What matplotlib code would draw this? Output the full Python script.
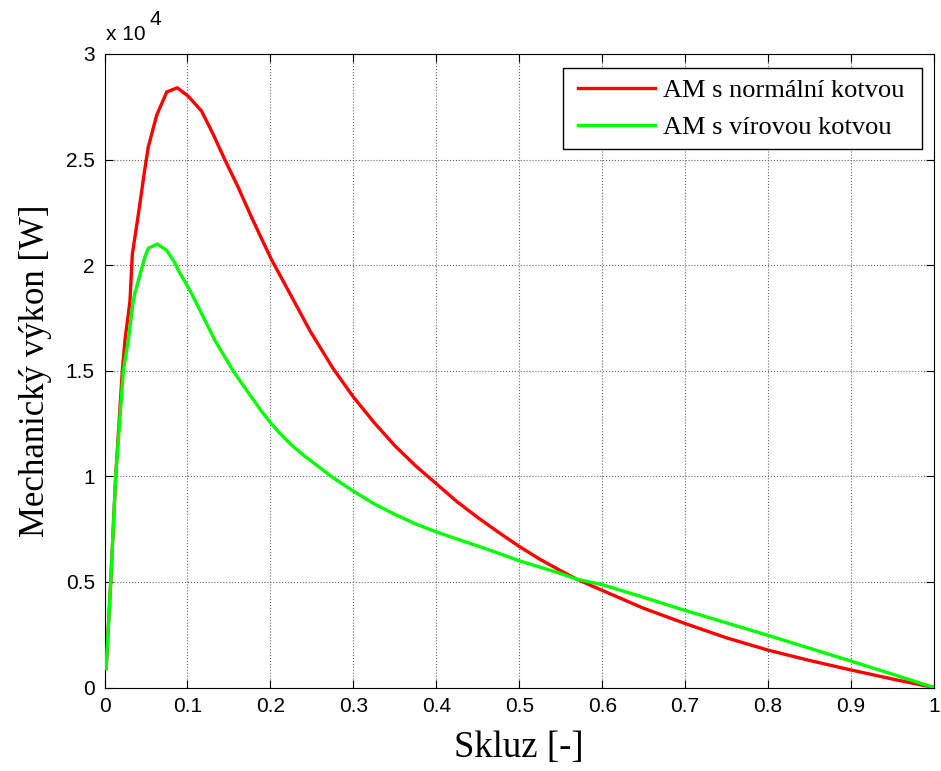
import matplotlib
matplotlib.use("Agg")
import matplotlib.pyplot as plt
from matplotlib.patches import Rectangle
from matplotlib.ticker import FuncFormatter

# Slip [-] and mechanical power [W] for the two rotor designs
slip_normal = [0.002, 0.0075, 0.0135, 0.0215, 0.0247, 0.0307, 0.0335, 0.0408,
               0.0488, 0.0528, 0.0629, 0.075, 0.0877, 0.101, 0.117, 0.131,
               0.145, 0.161, 0.1775, 0.19, 0.2015, 0.2257, 0.2476, 0.2757,
               0.30, 0.325, 0.35, 0.375, 0.40, 0.425, 0.45, 0.475, 0.50,
               0.525, 0.55, 0.5693, 0.60, 0.65, 0.70, 0.75, 0.80, 0.85, 0.90,
               0.95, 1.00]
power_normal = [900, 5000, 10000, 15000, 16450, 18300, 20500, 22400,
                24600, 25600, 27100, 28200, 28400, 28000, 27300, 26200,
                25000, 23700, 22250, 21200, 20250, 18500, 16900, 15100,
                13760, 12550, 11450, 10500, 9650, 8800, 8050, 7350, 6680,
                6070, 5530, 5130, 4600, 3750, 3030, 2350, 1770, 1280, 830,
                400, 0]

slip_eddy = [0.002, 0.0075, 0.0135, 0.0227, 0.0287, 0.0347, 0.0368, 0.0488,
             0.0528, 0.0637, 0.075, 0.085, 0.089, 0.105, 0.121, 0.133,
             0.155, 0.17, 0.18, 0.19, 0.20, 0.21, 0.225, 0.24, 0.25, 0.275,
             0.30, 0.325, 0.35, 0.375, 0.40, 0.45, 0.477, 0.50, 0.55,
             0.5693, 0.60, 0.65, 0.70, 0.75, 0.80, 0.85, 0.90, 0.95, 1.00]
power_eddy = [900, 5000, 10000, 15000, 16450, 18300, 18700, 20400,
              20800, 21000, 20700, 20100, 19760, 18660, 17400, 16450,
              15000, 14150, 13600, 13050, 12550, 12100, 11500, 11000,
              10700, 9950, 9300, 8700, 8200, 7750, 7370, 6700, 6330, 6000,
              5400, 5130, 4870, 4270, 3650, 3060, 2470, 1860, 1250, 630, 0]

labels = ["AM s normální kotvou", "AM s vírovou kotvou"]
x_ticks = [0, 0.1, 0.2, 0.3, 0.4, 0.5, 0.6, 0.7, 0.8, 0.9, 1.0]
y_ticks = [0, 5000, 10000, 15000, 20000, 25000, 30000]

fig = plt.figure(figsize=(9.41, 7.71), dpi=100)
fig.patch.set_facecolor("white")
ax = fig.add_axes([104.5 / 941, 83.5 / 771, 829.5 / 941, 633.5 / 771])

ax.plot(slip_normal, power_normal, color="#ff0000", lw=2.4, label=labels[0],
        zorder=3)
ax.plot(slip_eddy, power_eddy, color="#00ff00", lw=2.4, label=labels[1],
        zorder=3)

ax.set_xlim(0, 1)
ax.set_ylim(0, 30000)
ax.set_xticks(x_ticks)
ax.set_yticks(y_ticks)
ax.xaxis.set_major_formatter(FuncFormatter(lambda v, p: f"{v:g}"))
ax.yaxis.set_major_formatter(FuncFormatter(lambda v, p: f"{v / 1e4:g}"))

ax.grid(True, color="#666666", linestyle=":", linewidth=0.8, zorder=0)
ax.set_axisbelow(True)
ax.tick_params(direction="in", length=6, width=0.8, top=True, right=True,
               labelsize=15, colors="black")
ax.tick_params(axis="x", pad=7)
ax.tick_params(axis="y", pad=7)
for lab in ax.get_xticklabels() + ax.get_yticklabels():
    lab.set_fontfamily("Liberation Sans")
for sp in ax.spines.values():
    sp.set_linewidth(0.8)
    sp.set_color("black")

serif = "Liberation Serif"
ax.set_xlabel("Skluz [-]", fontsize=26.5, fontfamily=serif, labelpad=10)
ax.set_ylabel("Mechanický výkon [W]", fontsize=25, fontfamily=serif,
              labelpad=10)

# Exponent note above the y axis
fig.text(106 / 941, 1 - 40 / 771, "x 10", fontsize=15,
         fontfamily="Liberation Sans", va="baseline", ha="left")
fig.text(149 / 941, 1 - 25 / 771, "4", fontsize=15,
         fontfamily="Liberation Sans", va="baseline", ha="left")

# Legend with a separately drawn frame
frame = Rectangle((0.5524, 0.8500), 0.4328, 0.1274, transform=ax.transAxes,
                  facecolor="white", edgecolor="black", lw=1.0, zorder=4)
ax.add_patch(frame)
leg = ax.legend(loc="upper left", bbox_to_anchor=(0.5708, 0.9605),
                frameon=False, borderpad=0, borderaxespad=0,
                handlelength=2.9, handletextpad=0.34, labelspacing=0.5,
                prop={"family": serif, "size": 19})
leg.set_zorder(5)

fig.savefig("out.png", dpi=100, facecolor="white")
